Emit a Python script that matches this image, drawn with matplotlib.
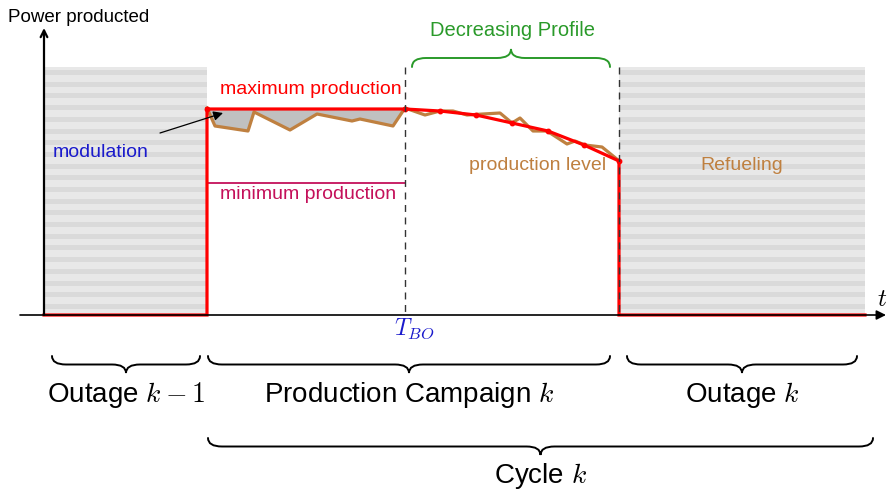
import numpy as np
import matplotlib.pyplot as plt
from matplotlib.path import Path
from matplotlib.patches import PathPatch

plt.rcParams['font.family'] = ['Liberation Sans', 'DejaVu Sans']
plt.rcParams['mathtext.fontset'] = 'cm'

# diagram coordinates (pixel-like units, y grows downward)
x_origin, y_axis = 44, 315
t_start, t_bo, t_end, t_stop = 207, 405, 619, 865
p_max, p_min, p_top = 109, 183, 67

# red max-production envelope, decreasing part after T_BO
decr_x = [405, 440, 476, 512, 548, 584, 619]
decr_y = [109, 111, 115, 123, 131, 145, 161]

# actual production level (tan line)
prod_x = [207, 215, 248, 254, 290, 317, 352, 360, 393, 405,
          425, 440, 453, 467, 483, 500, 512, 520, 533, 547, 567, 575, 585, 602, 618]
prod_y = [108, 126, 131, 112, 130, 114, 121, 119, 126, 108,
          115, 111, 111, 115, 114, 113, 123, 118, 131, 131, 144, 141, 145, 147, 160]

red = '#ff0000'
tan = '#bf8040'
green = '#2a9a2a'
blue = '#1a1acc'
crimson = '#c4105a'


def brace(ax, x0, x1, y, h, up=False, color='black', lw=1.4):
    s = -1 if up else 1
    r = h / 2
    q = 14
    xm = (x0 + x1) / 2
    verts = [(x0, y), (x0, y + s * r), (x0 + q, y + s * r),
             (xm - q, y + s * r), (xm, y + s * r), (xm, y + 2 * s * r),
             (xm, y + s * r), (xm + q, y + s * r),
             (x1 - q, y + s * r), (x1, y + s * r), (x1, y)]
    codes = [Path.MOVETO, Path.CURVE3, Path.CURVE3,
             Path.LINETO, Path.CURVE3, Path.CURVE3,
             Path.CURVE3, Path.CURVE3,
             Path.LINETO, Path.CURVE3, Path.CURVE3]
    ax.add_patch(PathPatch(Path(verts, codes), fill=False, ec=color, lw=lw,
                           capstyle='round'))


fig = plt.figure(figsize=(8.88, 4.94), dpi=100)
ax = fig.add_axes([0, 0, 1, 1])
ax.set_xlim(0, 888)
ax.set_ylim(494, 0)
ax.axis('off')

# striped outage boxes
period, dark = 11.7, 5
for xa, xb in [(x_origin, t_start), (t_end, t_stop)]:
    ax.fill_between([xa, xb], p_top, y_axis, color='#e8e8e8', lw=0, zorder=0)
    yy = p_top + 3
    while yy < y_axis:
        ax.fill_between([xa, xb], yy, min(yy + dark, y_axis), color='#dadada', lw=0, zorder=0)
        yy += period

# axes arrows
ax.annotate('', xy=(886, y_axis), xytext=(20, y_axis),
            arrowprops=dict(arrowstyle='-|>', color='black', lw=1.2,
                            mutation_scale=14, shrinkA=0, shrinkB=0), zorder=5)
ax.annotate('', xy=(x_origin, 28), xytext=(x_origin, y_axis),
            arrowprops=dict(arrowstyle='->', color='black', lw=1.6,
                            mutation_scale=12, shrinkA=0, shrinkB=0), zorder=5)
ax.text(8, 17, 'Power producted', fontsize=13.5, va='center', ha='left')
ax.text(877, 299, '$t$', fontsize=18, va='center', ha='left')

# modulation fill
px = np.array(prod_x)
py = np.array(prod_y)
mask = px <= t_bo
ax.fill_between(px[mask], p_max, py[mask], color='#c0c0c0', lw=0, zorder=2)

# red envelope
env_x = [x_origin, t_start, t_start, t_bo] + decr_x + [t_end, t_stop]
env_y = [y_axis, y_axis, p_max, p_max] + decr_y + [y_axis, y_axis]
ax.plot(env_x, env_y, color=red, lw=2.3, zorder=4, solid_joinstyle='miter')
ax.plot([t_start] + decr_x, [p_max] + decr_y, 'o', color=red, ms=3.2, zorder=4)

# production line
ax.plot(prod_x, prod_y, color=tan, lw=2.3, zorder=3)

# min production line
ax.plot([t_start, t_bo], [p_min, p_min], color=crimson, lw=1.3, zorder=3)

# dashed markers
for xv in [t_bo, t_end]:
    ax.plot([xv, xv], [p_top, y_axis], color='#333333', lw=1.0,
            ls=(0, (5, 4)), zorder=6)

# labels
ax.text(220, 89, 'maximum production', color=red, fontsize=14, va='center')
ax.text(220, 194, 'minimum production', color=crimson, fontsize=14, va='center')
ax.text(53, 152, 'modulation', color=blue, fontsize=14, va='center')
ax.annotate('', xy=(223, 113), xytext=(160, 133),
            arrowprops=dict(arrowstyle='-|>', color='black', lw=0.9,
                            mutation_scale=14, shrinkA=0, shrinkB=0), zorder=7)
ax.text(606, 165, 'production level', color=tan, fontsize=14, va='center', ha='right')
ax.text(742, 165, 'Refueling', color=tan, fontsize=14, va='center', ha='center')
ax.text(414, 329, r'$T_{BO}$', color=blue, fontsize=17, va='center', ha='center')

# top brace
brace(ax, 412, 610, 67, 18, up=True, color=green)
ax.text(512, 30, 'Decreasing Profile', color=green, fontsize=14.5, va='center', ha='center')

# bottom braces
brace(ax, 52, 200, 356, 17)
brace(ax, 208, 610, 356, 17)
brace(ax, 627, 857, 356, 17)
brace(ax, 208, 873, 438, 17)
ax.text(126, 395, r'Outage $k-1$', fontsize=20, va='center', ha='center')
ax.text(409, 395, r'Production Campaign $k$', fontsize=20, va='center', ha='center')
ax.text(742, 395, r'Outage $k$', fontsize=20, va='center', ha='center')
ax.text(541, 476, r'Cycle $k$', fontsize=20, va='center', ha='center')

fig.savefig('out.png', dpi=100)
